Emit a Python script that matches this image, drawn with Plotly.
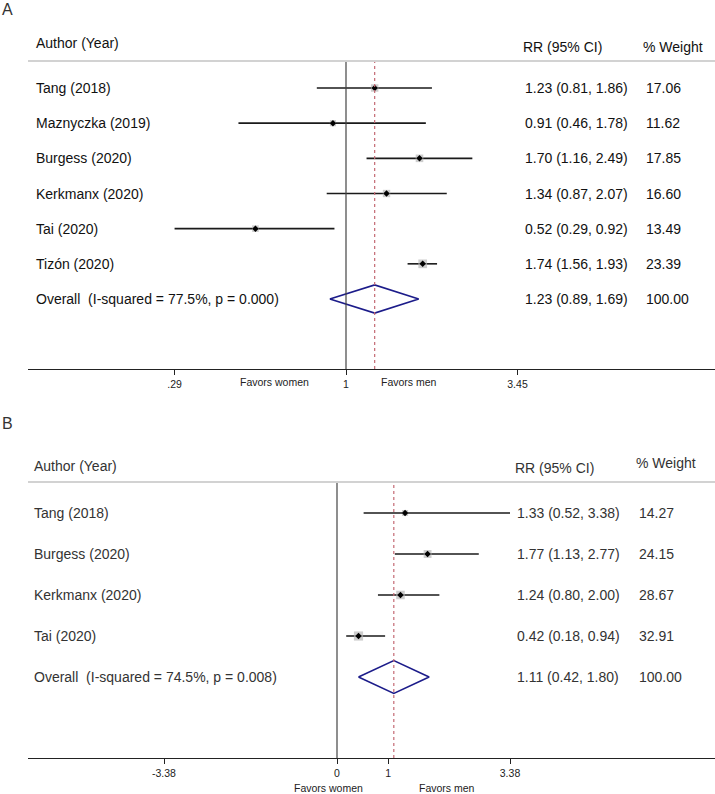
import plotly.graph_objects as go
import math

# ---------------- data ----------------
A_studies = ["Tang (2018)", "Maznyczka (2019)", "Burgess (2020)", "Kerkmanx (2020)", "Tai (2020)", "Tizón (2020)"]
A_rr = [1.23, 0.91, 1.70, 1.34, 0.52, 1.74]
A_lo = [0.81, 0.46, 1.16, 0.87, 0.29, 1.56]
A_hi = [1.86, 1.78, 2.49, 2.07, 0.92, 1.93]
A_weight = [17.06, 11.62, 17.85, 16.60, 13.49, 23.39]
A_overall_label = "Overall  (I-squared = 77.5%, p = 0.000)"
A_overall = [1.23, 0.89, 1.69]
A_overall_weight = 100.00
A_tickvals = [0.29, 1, 3.45]
A_ticktext = [".29", "1", "3.45"]

B_studies = ["Tang (2018)", "Burgess (2020)", "Kerkmanx (2020)", "Tai (2020)"]
B_rr = [1.33, 1.77, 1.24, 0.42]
B_lo = [0.52, 1.13, 0.80, 0.18]
B_hi = [3.38, 2.77, 2.00, 0.94]
B_weight = [14.27, 24.15, 28.67, 32.91]
B_overall_label = "Overall  (I-squared = 74.5%, p = 0.008)"
B_overall = [1.11, 0.42, 1.80]
B_overall_weight = 100.00
B_tickvals = [-3.38, 0, 1, 3.38]
B_ticktext = ["-3.38", "0", "1", "3.38"]

# ---------------- layout helpers ----------------
W, H = 715, 794
FONT = "Liberation Sans, Arial, sans-serif"


def px(x):
    return x / W


def py(y):
    return 1 - y / H


fig = go.Figure()
annotations = []
shapes = []


def add_panel(xa, ya, studies, rr, lo, hi, weight, ov_label, ov, ov_w,
              txtcolor, size_k, header_y, sep_y, rr_x, w_x, label_x):
    xref, yref = xa, ya
    n = len(studies)
    rows = list(range(1, n + 1))
    ov_row = n + 1
    # CI lines
    xs, ys = [], []
    for r, l, h in zip(rows, lo, hi):
        xs += [l, h, None]
        ys += [r, r, None]
    fig.add_trace(go.Scatter(x=xs, y=ys, mode="lines", xaxis=xref, yaxis=yref,
                             line=dict(color="#1a1a1a", width=1.6), showlegend=False,
                             hoverinfo="skip"))
    # weight boxes
    fig.add_trace(go.Scatter(x=rr, y=rows, mode="markers", xaxis=xref, yaxis=yref,
                             marker=dict(symbol="square", color="#b8b8b8",
                                         size=[size_k * math.sqrt(w) for w in weight],
                                         line=dict(width=0)),
                             showlegend=False, hoverinfo="skip"))
    # point estimate
    fig.add_trace(go.Scatter(x=rr, y=rows, mode="markers", xaxis=xref, yaxis=yref,
                             marker=dict(symbol="diamond", color="#000000", size=5,
                                         line=dict(width=0)),
                             showlegend=False, hoverinfo="skip"))
    # overall diamond
    est, l, h = ov
    hh = 0.4
    fig.add_trace(go.Scatter(x=[l, est, h, est, l],
                             y=[ov_row, ov_row - hh, ov_row, ov_row + hh, ov_row],
                             mode="lines", xaxis=xref, yaxis=yref,
                             line=dict(color="#1c1c8a", width=1.6),
                             showlegend=False, hoverinfo="skip"))
    ax = "x" if xref == "x" else "x2"
    ayd = ("y" if yref == "y" else "y2") + " domain"
    # null line
    null_x = 1 if xref == "x" else 0
    shapes.append(dict(type="line", xref=ax, yref=ayd, x0=null_x, x1=null_x, y0=0, y1=1,
                       line=dict(color="#444444", width=1.2)))
    # overall dashed line
    shapes.append(dict(type="line", xref=ax, yref=ayd, x0=est, x1=est, y0=0, y1=1,
                       line=dict(color="#c46a74", width=1.2, dash="3px,3px")))
    # header separator
    shapes.append(dict(type="line", xref="paper", yref="paper", x0=px(28), x1=1,
                       y0=py(sep_y), y1=py(sep_y),
                       line=dict(color="#d2d2d2", width=2)))
    # texts
    f = dict(family=FONT, size=14, color=txtcolor)
    annotations.append(dict(text="Author (Year)", x=px(label_x), y=py(header_y[0]),
                            xref="paper", yref="paper", xanchor="left", yanchor="middle",
                            showarrow=False, font=f))
    annotations.append(dict(text="RR (95% CI)", x=px(rr_x - 2), y=py(header_y[1]),
                            xref="paper", yref="paper", xanchor="left", yanchor="middle",
                            showarrow=False, font=f))
    annotations.append(dict(text="% Weight", x=px(w_x - 3), y=py(header_y[2]),
                            xref="paper", yref="paper", xanchor="left", yanchor="middle",
                            showarrow=False, font=f))
    yr = "y" if yref == "y" else "y2"
    all_labels = studies + [ov_label]
    all_rr = [f"{a:.2f} ({b:.2f}, {c:.2f})" for a, b, c in zip(rr, lo, hi)] + \
             [f"{ov[0]:.2f} ({ov[1]:.2f}, {ov[2]:.2f})"]
    all_w = [f"{w:.2f}" for w in weight] + [f"{ov_w:.2f}"]
    for i, (lab, t, w) in enumerate(zip(all_labels, all_rr, all_w)):
        r = i + 1
        annotations.append(dict(text=lab, x=px(label_x), y=r, xref="paper", yref=yr,
                                xanchor="left", yanchor="middle", showarrow=False, font=f))
        annotations.append(dict(text=t, x=px(rr_x), y=r, xref="paper", yref=yr,
                                xanchor="left", yanchor="middle", showarrow=False, font=f))
        annotations.append(dict(text=w, x=px(w_x), y=r, xref="paper", yref=yr,
                                xanchor="left", yanchor="middle", showarrow=False, font=f))


add_panel("x", "y", A_studies, A_rr, A_lo, A_hi, A_weight, A_overall_label, A_overall,
          A_overall_weight, "#111111", 1.8, (43, 47, 47), 61, 523, 644, 34)
add_panel("x2", "y2", B_studies, B_rr, B_lo, B_hi, B_weight, B_overall_label, B_overall,
          B_overall_weight, "#333333", 1.6, (466, 468, 463), 482, 515, 637, 32)

# favors labels
small = dict(family=FONT, size=10.5, color="#222222")
for text, x, y in [("Favors women", 274, 382), ("Favors men", 409, 382),
                   ("Favors women", 328, 788), ("Favors men", 447, 788)]:
    annotations.append(dict(text=text, x=px(x), y=py(y), xref="paper", yref="paper",
                            xanchor="center", yanchor="middle", showarrow=False, font=small))
# panel letters
for text, x, y in [("A", 0, 10), ("B", 0, 423)]:
    annotations.append(dict(text=text, x=px(x), y=py(y), xref="paper", yref="paper",
                            xanchor="left", yanchor="middle", showarrow=False,
                            font=dict(family=FONT, size=16, color="#333333")))

# axis geometry (pixels)
A_null_px, A_scale = 346.0, 171.5 / math.log10(3.45)
A_range = [(28 - A_null_px) / A_scale, (715 - A_null_px) / A_scale]
B_zero_px, B_scale = 337.0, 173.0 / 3.38
B_range = [(28 - B_zero_px) / B_scale, (715 - B_zero_px) / B_scale]

A_top, A_bot = 62, 369
A_rows = [88, 299]
A_sp = (A_rows[1] - A_rows[0]) / 6
A_yrange = [7 + (A_bot - A_rows[1]) / A_sp, 1 - (A_rows[0] - A_top) / A_sp]
B_top, B_bot = 482, 758
B_rows = [513, 677]
B_sp = (B_rows[1] - B_rows[0]) / 4
B_yrange = [5 + (B_bot - B_rows[1]) / B_sp, 1 - (B_rows[0] - B_top) / B_sp]

axis_common = dict(showgrid=False, zeroline=False, showline=True, linecolor="#222222",
                   linewidth=1.3, ticks="outside", ticklen=5, tickwidth=1.2,
                   tickcolor="#222222", tickfont=dict(family=FONT, size=10.5, color="#222222"),
                   fixedrange=True)
yaxis_common = dict(showgrid=False, zeroline=False, showline=False, showticklabels=False,
                    ticks="", fixedrange=True)

fig.update_layout(
    width=W, height=H,
    margin=dict(l=0, r=0, t=0, b=0),
    paper_bgcolor="white", plot_bgcolor="white",
    showlegend=False,
    xaxis=dict(domain=[px(28), 1], type="log", range=A_range, anchor="y",
               tickvals=A_tickvals, ticktext=A_ticktext, **axis_common),
    yaxis=dict(domain=[py(A_bot), py(A_top)], range=A_yrange, anchor="x", **yaxis_common),
    xaxis2=dict(domain=[px(28), 1], type="linear", range=B_range, anchor="y2",
                tickvals=B_tickvals, ticktext=B_ticktext, **axis_common),
    yaxis2=dict(domain=[py(B_bot), py(B_top)], range=B_yrange, anchor="x2", **yaxis_common),
    annotations=annotations,
    shapes=shapes,
)

fig.write_html("out.html", config={"displayModeBar": False},
               post_script="document.body.style.margin='0';document.body.style.overflow='hidden';")
